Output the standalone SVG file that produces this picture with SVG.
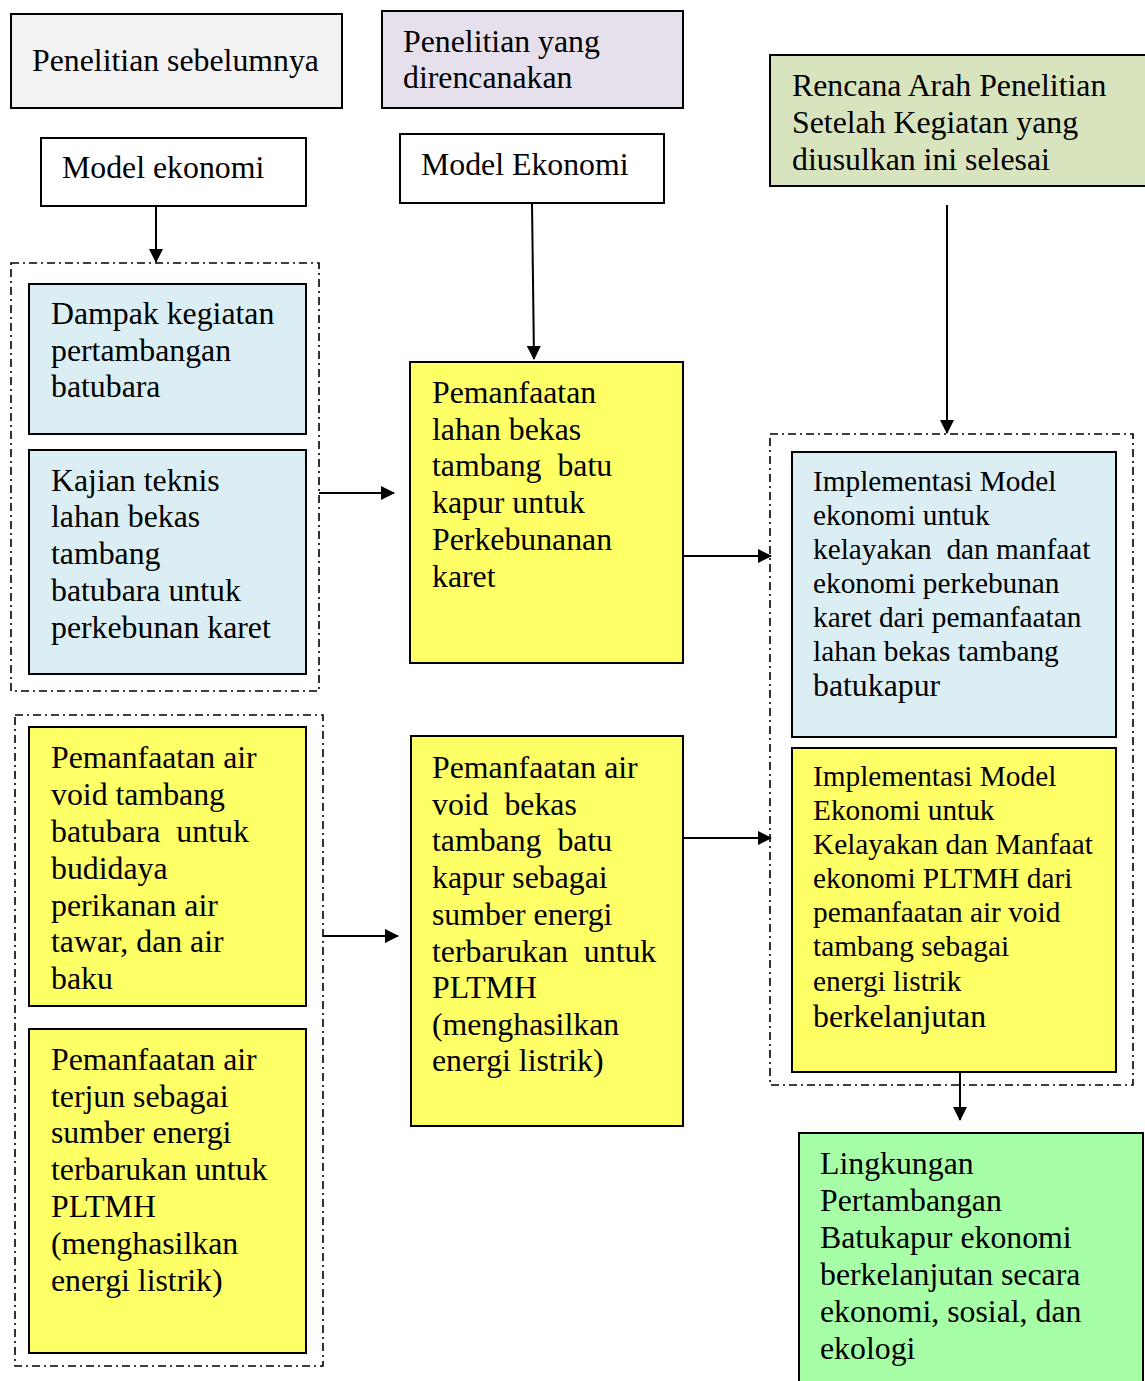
<svg xmlns="http://www.w3.org/2000/svg" width="1145" height="1381" viewBox="0 0 1145 1381">
  <defs>
    <marker id="arrow" markerWidth="14" markerHeight="14" refX="13" refY="7" orient="auto" markerUnits="userSpaceOnUse">
      <path d="M0,0 L14,7 L0,14 Z" fill="#000"/>
    </marker>
    <style>
      .box { stroke: #000; stroke-width: 2; }
      .frame { fill: none; stroke: #000; stroke-width: 1.6; stroke-dasharray: 8 4 2 4; }
      .t { font-family: "Liberation Serif", "Times New Roman", serif; font-size: 31.8px; fill: #000; white-space: pre; }
      .s { font-size: 29.3px; }
      .link { stroke: #000; stroke-width: 2; fill: none; marker-end: url(#arrow); }
    </style>
  </defs>
  <rect width="1145" height="1381" fill="#fff"/>

  <!-- column headers -->
  <g id="hdr-prev">
    <rect class="box" x="11" y="14" width="331" height="94" fill="#f2f2f2"/>
    <text class="t" x="32" y="71">Penelitian sebelumnya</text>
  </g>
  <g id="hdr-plan">
    <rect class="box" x="382" y="11" width="301" height="97" fill="#e5e0ec"/>
    <text class="t" x="403" y="52">Penelitian yang</text>
    <text class="t" x="403" y="88">direncanakan</text>
  </g>
  <g id="hdr-next">
    <rect class="box" x="770" y="55" width="380" height="131" fill="#d7e4bd"/>
    <text class="t" x="792" y="96">Rencana Arah Penelitian</text>
    <text class="t" x="792" y="133">Setelah Kegiatan yang</text>
    <text class="t" x="792" y="170">diusulkan ini selesai</text>
  </g>

  <!-- model labels -->
  <g id="model-prev">
    <rect class="box" x="41" y="138" width="265" height="68" fill="#fff"/>
    <text class="t" x="62" y="178">Model ekonomi</text>
  </g>
  <g id="model-plan">
    <rect class="box" x="400" y="134" width="264" height="69" fill="#fff"/>
    <text class="t" x="421" y="175">Model Ekonomi</text>
  </g>

  <!-- dash-dot grouping frames -->
  <g id="frames">
    <rect class="frame" x="11" y="263" width="308" height="428"/>
    <rect class="frame" x="15" y="715" width="308" height="651"/>
    <rect class="frame" x="770" y="434" width="363" height="651"/>
  </g>

  <!-- previous research -->
  <g id="dampak">
    <rect class="box" x="29" y="284" width="277" height="150" fill="#dbeef4"/>
    <text class="t" x="51" y="324">Dampak kegiatan</text>
    <text class="t" x="51" y="361">pertambangan</text>
    <text class="t" x="51" y="397">batubara</text>
  </g>
  <g id="kajian">
    <rect class="box" x="29" y="450" width="277" height="224" fill="#dbeef4"/>
    <text class="t" x="51" y="491">Kajian teknis</text>
    <text class="t" x="51" y="527">lahan bekas</text>
    <text class="t" x="51" y="564">tambang</text>
    <text class="t" x="51" y="601">batubara untuk</text>
    <text class="t" x="51" y="638">perkebunan karet</text>
  </g>
  <g id="void-batubara">
    <rect class="box" x="29" y="727" width="277" height="279" fill="#ffff66"/>
    <text class="t" x="51" y="768">Pemanfaatan air</text>
    <text class="t" x="51" y="805">void tambang</text>
    <text class="t" x="51" y="842">batubara  untuk</text>
    <text class="t" x="51" y="879">budidaya</text>
    <text class="t" x="51" y="916">perikanan air</text>
    <text class="t" x="51" y="952">tawar, dan air</text>
    <text class="t" x="51" y="989">baku</text>
  </g>
  <g id="air-terjun">
    <rect class="box" x="29" y="1029" width="277" height="324" fill="#ffff66"/>
    <text class="t" x="51" y="1070">Pemanfaatan air</text>
    <text class="t" x="51" y="1107">terjun sebagai</text>
    <text class="t" x="51" y="1143">sumber energi</text>
    <text class="t" x="51" y="1180">terbarukan untuk</text>
    <text class="t" x="51" y="1217">PLTMH</text>
    <text class="t" x="51" y="1254">(menghasilkan</text>
    <text class="t" x="51" y="1291">energi listrik)</text>
  </g>

  <!-- planned research -->
  <g id="lahan-kapur">
    <rect class="box" x="410" y="362" width="273" height="301" fill="#ffff66"/>
    <text class="t" x="432" y="403">Pemanfaatan</text>
    <text class="t" x="432" y="440">lahan bekas</text>
    <text class="t" x="432" y="476">tambang  batu</text>
    <text class="t" x="432" y="513">kapur untuk</text>
    <text class="t" x="432" y="550">Perkebunanan</text>
    <text class="t" x="432" y="587">karet</text>
  </g>
  <g id="void-kapur">
    <rect class="box" x="411" y="736" width="272" height="390" fill="#ffff66"/>
    <text class="t" x="432" y="778">Pemanfaatan air</text>
    <text class="t" x="432" y="815">void  bekas</text>
    <text class="t" x="432" y="851">tambang  batu</text>
    <text class="t" x="432" y="888">kapur sebagai</text>
    <text class="t" x="432" y="925">sumber energi</text>
    <text class="t" x="432" y="962">terbarukan  untuk</text>
    <text class="t" x="432" y="998">PLTMH</text>
    <text class="t" x="432" y="1035">(menghasilkan</text>
    <text class="t" x="432" y="1071">energi listrik)</text>
  </g>

  <!-- follow-up research -->
  <g id="impl-karet">
    <rect class="box" x="792" y="452" width="324" height="285" fill="#dbeef4"/>
    <text class="t s" x="813" y="491">Implementasi Model</text>
    <text class="t s" x="813" y="525">ekonomi untuk</text>
    <text class="t s" x="813" y="559">kelayakan  dan manfaat</text>
    <text class="t s" x="813" y="593">ekonomi perkebunan</text>
    <text class="t s" x="813" y="627">karet dari pemanfaatan</text>
    <text class="t s" x="813" y="661">lahan bekas tambang</text>
    <text class="t" x="813" y="696">batukapur</text>
  </g>
  <g id="impl-pltmh">
    <rect class="box" x="792" y="748" width="324" height="324" fill="#ffff66"/>
    <text class="t s" x="813" y="786">Implementasi Model</text>
    <text class="t s" x="813" y="820">Ekonomi untuk</text>
    <text class="t s" x="813" y="854">Kelayakan dan Manfaat</text>
    <text class="t s" x="813" y="888">ekonomi PLTMH dari</text>
    <text class="t s" x="813" y="922">pemanfaatan air void</text>
    <text class="t s" x="813" y="956">tambang sebagai</text>
    <text class="t s" x="813" y="991">energi listrik</text>
    <text class="t" x="813" y="1027">berkelanjutan</text>
  </g>
  <g id="lingkungan">
    <rect class="box" x="799" y="1133" width="344" height="260" fill="#a6ffa6"/>
    <text class="t" x="820" y="1174">Lingkungan</text>
    <text class="t" x="820" y="1211">Pertambangan</text>
    <text class="t" x="820" y="1248">Batukapur ekonomi</text>
    <text class="t" x="820" y="1285">berkelanjutan secara</text>
    <text class="t" x="820" y="1322">ekonomi, sosial, dan</text>
    <text class="t" x="820" y="1359">ekologi</text>
  </g>

  <!-- connectors -->
  <g id="connectors">
    <line class="link" x1="156" y1="206" x2="156" y2="262"/>
    <line class="link" x1="532" y1="203" x2="534" y2="359"/>
    <line class="link" x1="947" y1="205" x2="947" y2="433"/>
    <line class="link" x1="319" y1="493" x2="394" y2="493"/>
    <line class="link" x1="683" y1="556" x2="771" y2="556"/>
    <line class="link" x1="323" y1="936" x2="398" y2="936"/>
    <line class="link" x1="683" y1="838" x2="771" y2="838"/>
    <line class="link" x1="960" y1="1072" x2="960" y2="1120"/>
  </g>
</svg>
